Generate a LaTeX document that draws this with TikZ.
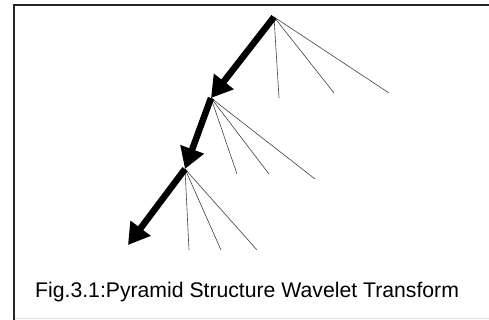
\documentclass[tikz,border=0pt]{standalone}
\usepackage{fontspec}
\setmainfont{Liberation Sans}
\usetikzlibrary{arrows.meta}

\tikzset{
  branch/.style={line width=0.6pt, black!75},
  descend/.style={-{Triangle[length=21pt, width=24pt]}, line width=6.5pt, black}
}

\begin{document}
\begin{tikzpicture}[x=1pt, y=-1pt]
      \useasboundingbox (0,0) rectangle (489,320);
      % frame
      \draw[line width=2pt, black!85] (489,5) -- (14,5) -- (14,320);
      \draw[line width=0.8pt, black!12] (15,318.5) -- (489,318.5);

      \coordinate (A) at (274,17);
      \coordinate (B) at (211,98);
      \coordinate (C) at (185,169);
      \coordinate (D) at (128,245);

      \draw[branch] (A) -- (279,98);
      \draw[branch] (A) -- (334,93);
      \draw[branch] (A) -- (389,93);

      \draw[branch] (B) -- (237,174);
      \draw[branch] (B) -- (269,174);
      \draw[branch] (B) -- (315,179);

      \draw[branch] (C) -- (189,250);
      \draw[branch] (C) -- (221,250);
      \draw[branch] (C) -- (257,250);

      \draw[descend] (A) -- (B);
      \draw[descend] (B) -- (C);
      \draw[descend] (C) -- (D);

      \node[anchor=base west, inner sep=0pt, font=\fontsize{21.2}{24}\selectfont] (caption) at (35,297) {Fig.3.1:Pyramid Structure Wavelet Transform};
  \end{tikzpicture}
\end{document}
